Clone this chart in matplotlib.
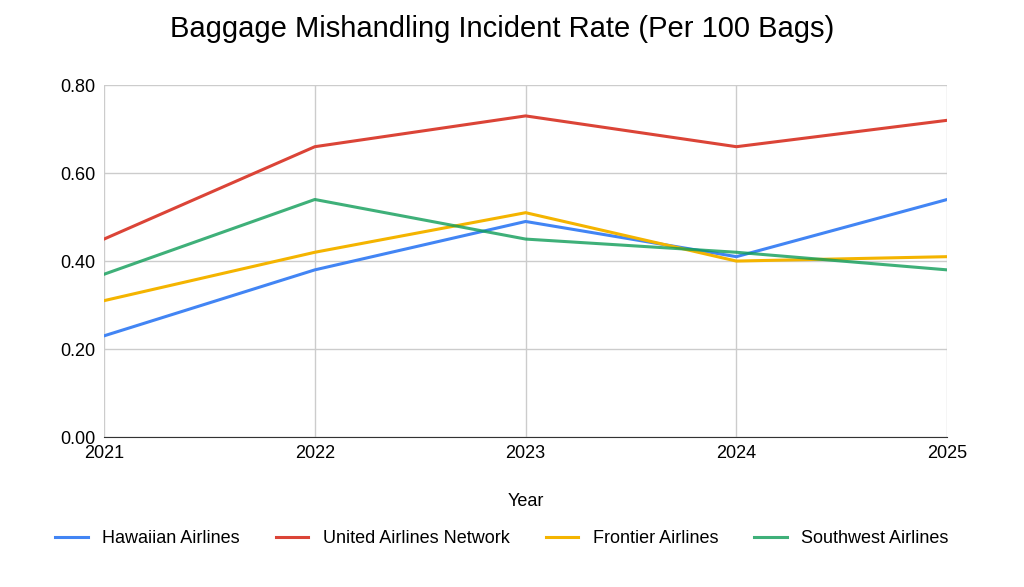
import matplotlib
matplotlib.use("Agg")
import matplotlib.pyplot as plt

plt.rcParams['font.family'] = ['Liberation Sans', 'DejaVu Sans']

years = [2021, 2022, 2023, 2024, 2025]
hawaiian = [0.23, 0.38, 0.49, 0.41, 0.54]
united = [0.45, 0.66, 0.73, 0.66, 0.72]
frontier = [0.31, 0.42, 0.51, 0.40, 0.41]
southwest = [0.37, 0.54, 0.45, 0.42, 0.38]

fig = plt.figure(figsize=(10.24, 5.87), dpi=100)
ax = fig.add_axes([0.1016, 0.2555, 0.8234, 0.5995])
ax.plot(years, hawaiian, color="#4285F4", lw=2.2, label="Hawaiian Airlines")
ax.plot(years, united, color="#DB4437", lw=2.2, label="United Airlines Network")
ax.plot(years, frontier, color="#F4B400", lw=2.2, label="Frontier Airlines")
ax.plot(years, southwest, color="#0F9D58", lw=2.2, alpha=0.8, label="Southwest Airlines")
ax.set_xlim(2021, 2025)
ax.set_ylim(0, 0.8)
ax.set_xticks(years)
ax.set_yticks([0, 0.2, 0.4, 0.6, 0.8])
ax.set_yticklabels(["0.00", "0.20", "0.40", "0.60", "0.80"])
ax.grid(True, color="#cccccc", lw=1)
ax.set_axisbelow(True)
for s in ["top", "right", "left"]:
    ax.spines[s].set_visible(False)
ax.spines["bottom"].set_color("#333333")
ax.tick_params(length=0, labelsize=13, pad=6)
ax.set_xlabel("Year", fontsize=13, labelpad=22)
fig.suptitle("Baggage Mishandling Incident Rate (Per 100 Bags)", fontsize=21, x=0.49, y=0.975)
fig.legend(loc="lower center", ncol=4, frameon=False, fontsize=13,
           bbox_to_anchor=(0.49, 0.04), handlelength=1.8, columnspacing=2.0)
fig.savefig("out.png", dpi=100)
